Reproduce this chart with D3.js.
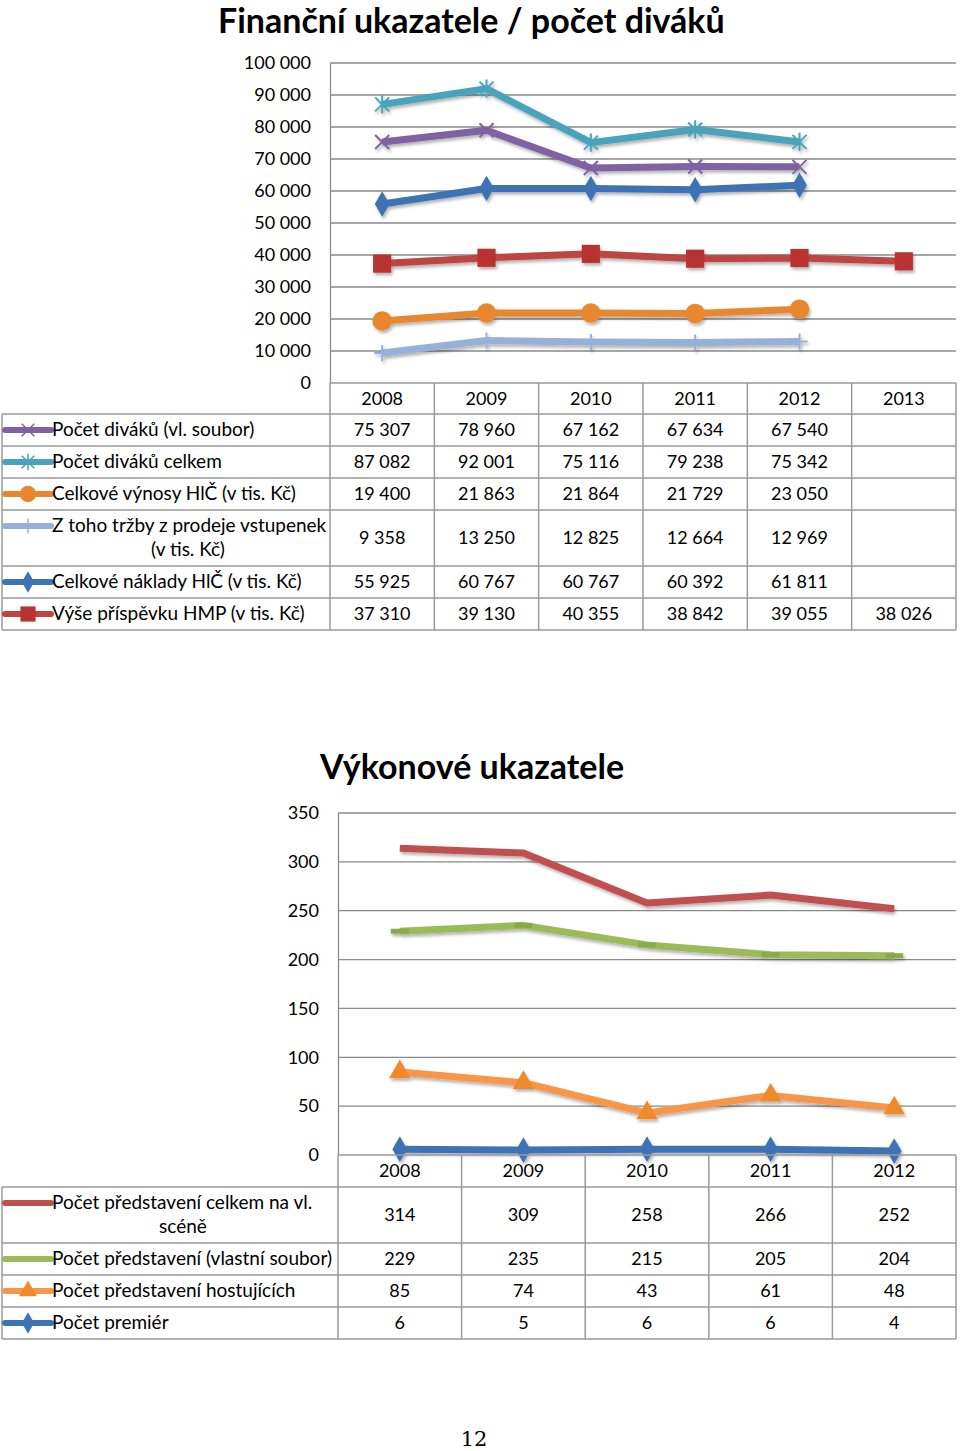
<!DOCTYPE html>
<html>
<head>
<meta charset="utf-8">
<script src="https://cdn.jsdelivr.net/npm/d3@7"></script>
<style>
  body { margin: 0; background: #fff; }
  svg { display: block; font-family: Lato, "Open Sans", sans-serif; }
</style>
</head>
<body>
<svg id="page" width="960" height="1451"></svg>
<script>
// --- data: finance chart ---
const finYears = ['2008', '2009', '2010', '2011', '2012', '2013']
const finTicks = [0, 10000, 20000, 30000, 40000, 50000, 60000, 70000, 80000, 90000, 100000]
const finNames = [
  'Počet diváků (vl. soubor)',
  'Počet diváků celkem',
  'Celkové výnosy HlČ (v tis. Kč)',
  'Z toho tržby z prodeje vstupenek|(v tis. Kč)',
  'Celkové náklady HlČ (v tis. Kč)',
  'Výše příspěvku HMP (v tis. Kč)'
]
const divakySoubor = [75307, 78960, 67162, 67634, 67540]
const divakyCelkem = [87082, 92001, 75116, 79238, 75342]
const vynosy = [19400, 21863, 21864, 21729, 23050]
const trzby = [9358, 13250, 12825, 12664, 12969]
const naklady = [55925, 60767, 60767, 60392, 61811]
const prispevek = [37310, 39130, 40355, 38842, 39055, 38026]

// --- data: performance chart ---
const vykYears = ['2008', '2009', '2010', '2011', '2012']
const vykTicks = [0, 50, 100, 150, 200, 250, 300, 350]
const vykNames = [
  'Počet představení celkem na vl.|scéně',
  'Počet představení (vlastní soubor)',
  'Počet představení hostujících',
  'Počet premiér'
]
const predstaveniCelkem = [314, 309, 258, 266, 252]
const predstaveniSoubor = [229, 235, 215, 205, 204]
const hostujici = [85, 74, 43, 61, 48]
const premiery = [6, 5, 6, 6, 4]

const czLocale = d3.formatLocale({ decimal: ',', thousands: ' ', grouping: [3], currency: ['', ' Kč'] })
const fmt = czLocale.format(',')

const svg = d3.select('#page')

const defs = svg.append('defs')
defs.append('filter')
  .attr('id', 'shadow')
  .attr('x', '-20%').attr('y', '-50%').attr('width', '140%').attr('height', '200%')
  .append('feDropShadow')
  .attr('dx', 1.5).attr('dy', 2.5).attr('stdDeviation', 1.5)
  .attr('flood-color', '#000').attr('flood-opacity', 0.3)

// marker paths
const cross = s => `M${-s},${-s}L${s},${s}M${-s},${s}L${s},${-s}`
const star = s => cross(s) + `M0,${-s * 1.3}L0,${s * 1.3}`
const plus = s => `M${-s},0L${s},0M0,${-s}L0,${s}`

const markerFns = {
  cross: s => ({ d: cross(s), stroke: true }),
  star: s => ({ d: star(s), stroke: true }),
  plus: s => ({ d: plus(s), stroke: true }),
  circle: s => ({ d: d3.symbol(d3.symbolCircle, s)(), stroke: false }),
  diamond: s => ({ d: d3.symbol(d3.symbolDiamond, s)(), stroke: false }),
  square: s => ({ d: d3.symbol(d3.symbolSquare, s)(), stroke: false }),
  triangle: s => ({ d: d3.symbol(d3.symbolTriangle, s)(), stroke: false }),
  dash: s => ({ d: `M${-s},-2.5h${2 * s}v5h${-2 * s}Z`, stroke: false }),
  none: () => null
}

function drawChart(cfg) {
  const g = svg.append('g')
  const x = d3.scaleBand().domain(cfg.years).range([cfg.left, cfg.right])
  const y = d3.scaleLinear().domain([0, d3.max(cfg.ticks)]).range([cfg.bottom, cfg.top])
  const cx = d => x(d) + x.bandwidth() / 2

  // title
  g.append('text')
    .attr('x', cfg.titleX).attr('y', cfg.titleY)
    .attr('font-size', cfg.titleSize).attr('font-weight', 'bold')
    .attr('fill', '#000')
    .text(cfg.title)

  // gridlines
  g.append('g')
    .selectAll('line')
    .data(cfg.ticks.filter(t => t > 0))
    .join('line')
    .attr('x1', cfg.left).attr('x2', cfg.right)
    .attr('y1', d => y(d)).attr('y2', d => y(d))
    .attr('stroke', '#8a8a8a').attr('stroke-width', 1.3)

  // y axis
  const yAxis = g.append('g')
    .attr('transform', `translate(${cfg.left},0)`)
    .call(d3.axisLeft(y).tickValues(cfg.ticks).tickFormat(fmt).tickSize(0).tickPadding(cfg.left - cfg.labelRight))
  yAxis.select('.domain').attr('stroke', '#8a8a8a').attr('stroke-width', 1.3)
  yAxis.selectAll('text').attr('font-size', 18).attr('font-family', 'Lato, sans-serif').attr('fill', '#000')

  // series lines
  const lineGen = d3.line().x((d, i) => cx(cfg.years[i])).y(d => y(d))
  const plot = g.append('g').attr('filter', 'url(#shadow)')
  cfg.series.forEach(s => {
    plot.append('path')
      .datum(s.values)
      .attr('d', lineGen)
      .attr('fill', 'none')
      .attr('stroke', s.color)
      .attr('stroke-width', s.width || 7)
      .attr('stroke-linejoin', 'round')
  })
  cfg.series.forEach(s => {
    const m = markerFns[s.marker](s.size)
    if (!m) return
    plot.append('g')
      .selectAll('path')
      .data(s.values)
      .join('path')
      .attr('transform', (d, i) => `translate(${cx(cfg.years[i])},${y(d)})`)
      .attr('d', m.d)
      .attr('fill', m.stroke ? 'none' : s.mcolor || s.color)
      .attr('stroke', m.stroke ? s.mcolor || s.color : 'none')
      .attr('stroke-width', m.stroke ? 2 : 0)
  })

  // data table
  const rowTops = [cfg.bottom]
  const heights = [cfg.headH].concat(cfg.series.map(s => s.name.includes('|') ? cfg.rowH2 : cfg.rowH))
  heights.forEach(h => rowTops.push(rowTops[rowTops.length - 1] + h))
  const tableBottom = rowTops[rowTops.length - 1]
  const grid = g.append('g').attr('stroke', '#9a9a9a').attr('stroke-width', 1.5)

  rowTops.forEach((ry, i) => {
    grid.append('line')
      .attr('x1', i === 0 ? cfg.left : 2).attr('x2', cfg.right)
      .attr('y1', ry).attr('y2', ry)
  })
  cfg.years.forEach(yr => {
    grid.append('line')
      .attr('x1', x(yr)).attr('x2', x(yr))
      .attr('y1', cfg.bottom).attr('y2', tableBottom)
  })
  grid.append('line')
    .attr('x1', cfg.right).attr('x2', cfg.right)
    .attr('y1', cfg.bottom).attr('y2', tableBottom)
  grid.append('line')
    .attr('x1', 2).attr('x2', 2)
    .attr('y1', rowTops[1]).attr('y2', tableBottom)

  const mid = i => (rowTops[i] + rowTops[i + 1]) / 2

  // header years
  g.append('g').selectAll('text')
    .data(cfg.years)
    .join('text')
    .attr('x', d => cx(d)).attr('y', mid(0) + 6)
    .attr('text-anchor', 'middle').attr('font-size', 18)
    .text(d => d)

  cfg.series.forEach((s, si) => {
    const ym = mid(si + 1)
    // values
    g.append('g').selectAll('text')
      .data(s.values)
      .join('text')
      .attr('x', (d, i) => cx(cfg.years[i])).attr('y', ym + 6)
      .attr('text-anchor', 'middle').attr('font-size', 18)
      .text(d => fmt(d))

    // legend key
    const parts = s.name.split('|')
    const keyY = parts.length > 1 ? ym - 12 : ym
    const key = g.append('g').attr('transform', `translate(28,${keyY})`)
    key.append('line')
      .attr('x1', -23).attr('x2', 23)
      .attr('stroke', s.color).attr('stroke-width', 6).attr('stroke-linecap', 'round')
    const km = markerFns[s.marker](s.size * (markerFns[s.marker](1) && markerFns[s.marker](1).stroke ? 0.9 : 0.7))
    if (km && s.marker !== 'dash') {
      key.append('path').attr('d', km.d)
        .attr('fill', km.stroke ? 'none' : s.mcolor || s.color)
        .attr('stroke', km.stroke ? s.mcolor || s.color : 'none')
        .attr('stroke-width', km.stroke ? 1.5 : 0)
    }
    const t = g.append('text').attr('font-size', 19).attr('fill', '#000')
    if (parts.length > 1) {
      t.append('tspan').attr('x', 52).attr('y', ym - 6).text(parts[0])
      t.append('tspan').attr('x', cfg.wrapCenter).attr('y', ym + 18)
        .attr('text-anchor', 'middle').text(parts[1])
    } else {
      t.attr('x', 52).attr('y', ym + 6).text(parts[0])
    }
  })
}

drawChart({
  title: 'Finanční ukazatele / počet diváků',
  titleX: 218, titleY: 33, titleSize: 34,
  years: finYears, ticks: finTicks,
  left: 330, right: 956, top: 63, bottom: 383, labelRight: 311,
  headH: 31, rowH: 32, rowH2: 56, wrapCenter: 188,
  series: [
    { name: finNames[0], values: divakySoubor, color: '#7e62a1', marker: 'cross', size: 7 },
    { name: finNames[1], values: divakyCelkem, color: '#4aa3ba', marker: 'star', size: 7 },
    { name: finNames[2], values: vynosy, color: '#e8872f', marker: 'circle', size: 300 },
    { name: finNames[3], values: trzby, color: '#95b1d8', marker: 'plus', size: 8 },
    { name: finNames[4], values: naklady, color: '#3e73b5', marker: 'diamond', size: 190 },
    { name: finNames[5], values: prispevek, color: '#bf4442', mcolor: '#b83230', marker: 'square', size: 330 }
  ]
})

drawChart({
  title: 'Výkonové ukazatele',
  titleX: 320, titleY: 779, titleSize: 34,
  years: vykYears, ticks: vykTicks,
  left: 338, right: 956, top: 813, bottom: 1155, labelRight: 319,
  headH: 32, rowH: 32, rowH2: 56, wrapCenter: 183,
  series: [
    { name: vykNames[0], values: predstaveniCelkem, color: '#c0504d', marker: 'none', size: 0 },
    { name: vykNames[1], values: predstaveniSoubor, color: '#9bbb59', mcolor: '#8aaa4a', marker: 'dash', size: 9 },
    { name: vykNames[2], values: hostujici, color: '#f7964a', mcolor: '#ef8a2a', marker: 'triangle', size: 200 },
    { name: vykNames[3], values: premiery, color: '#3e73b5', marker: 'diamond', size: 190 }
  ]
})

// page number
svg.append('text')
  .attr('x', 474).attr('y', 1446)
  .attr('text-anchor', 'middle')
  .attr('font-family', '"DejaVu Serif", "Liberation Serif", serif')
  .attr('font-size', 21)
  .text('12')
</script>
</body>
</html>
